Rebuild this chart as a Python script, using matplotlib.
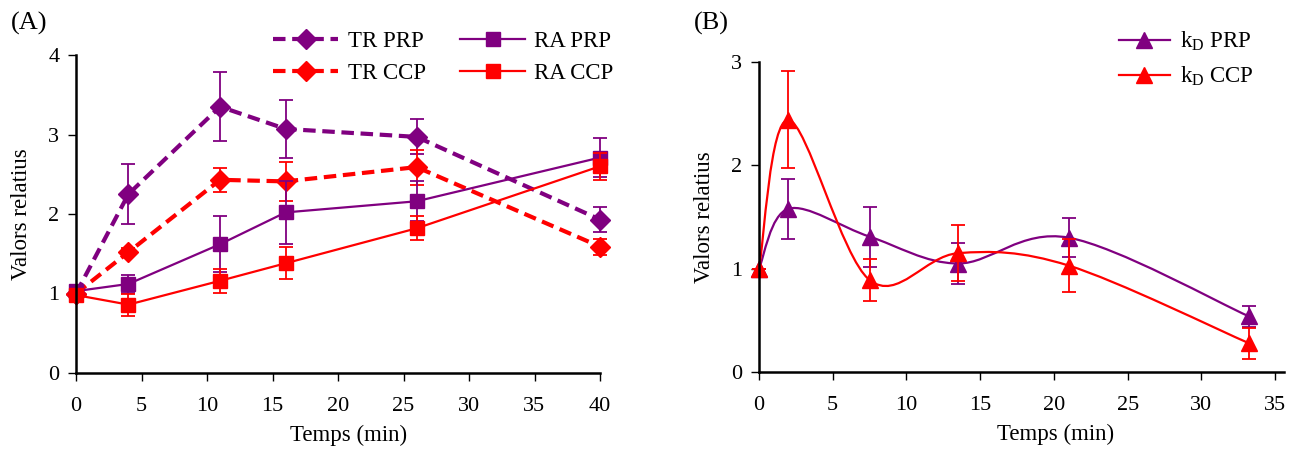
import numpy as np
import matplotlib.pyplot as plt
from matplotlib.path import Path
from matplotlib.patches import PathPatch

plt.rcParams['font.family'] = ['Liberation Serif', 'DejaVu Serif']
plt.rcParams['font.size'] = 16

PURPLE = '#800080'
RED = '#ff0000'

# Panel A data
t_a = [0, 4, 11, 16, 26, 40]
tr_prp = [1.0, 2.25, 3.35, 3.07, 2.97, 1.93]
tr_prp_err = [0, 0.38, 0.43, 0.37, 0.22, 0.16]
tr_ccp = [1.0, 1.52, 2.43, 2.41, 2.59, 1.59]
tr_ccp_err = [0, 0.05, 0.15, 0.25, 0.22, 0.10]
ra_prp = [1.03, 1.12, 1.62, 2.02, 2.16, 2.71]
ra_prp_err = [0, 0.11, 0.35, 0.40, 0.25, 0.25]
ra_ccp = [0.98, 0.86, 1.16, 1.38, 1.82, 2.60]
ra_ccp_err = [0, 0.14, 0.15, 0.20, 0.15, 0.17]

# Panel B data
t_b = [0, 2, 7.5, 13.5, 21, 33.2]
kd_prp = [1.0, 1.58, 1.31, 1.05, 1.30, 0.54]
kd_prp_err = [0, 0.29, 0.29, 0.20, 0.19, 0.10]
kd_ccp = [1.0, 2.44, 0.89, 1.15, 1.03, 0.28]
kd_ccp_err = [0, 0.47, 0.20, 0.27, 0.26, 0.15]

fig = plt.figure(figsize=(12.93, 4.49), dpi=100)
axA = fig.add_axes([76/1293, 76/449, 524/1293, 318/449])
axB = fig.add_axes([759/1293, 77/449, 525/1293, 310/449])


def style_axis(ax):
    for s in ['top', 'right']:
        ax.spines[s].set_visible(False)
    for s in ['left', 'bottom']:
        ax.spines[s].set_linewidth(1.8)
    ax.tick_params(direction='out', length=6, width=1.0, labelsize=16)
    ax.tick_params(axis='x', pad=11)
    ax.tick_params(axis='y', pad=6)


def smooth_line(ax, x, y, **kw):
    # Excel-like smoothed line, built in display space
    pts = ax.transData.transform(np.column_stack([x, y]))
    n = len(pts)
    verts = [pts[0]]
    codes = [Path.MOVETO]
    for i in range(n - 1):
        p0 = pts[i - 1] if i > 0 else pts[i]
        p1, p2 = pts[i], pts[i + 1]
        p3 = pts[i + 2] if i + 2 < n else pts[i + 1]
        c1 = p1 + (p2 - p0) / 6
        c2 = p2 - (p3 - p1) / 6
        verts += [c1, c2, p2]
        codes += [Path.CURVE4] * 3
    verts = ax.transData.inverted().transform(np.array(verts))
    ax.add_patch(PathPatch(Path(verts, codes), fill=False, **kw))


# ---- Panel A ----
style_axis(axA)
axA.set_xlim(0, 40)
axA.set_ylim(0, 4)
axA.set_xticks(range(0, 41, 5))
axA.set_yticks(range(0, 5))

series_a = [
    (tr_prp, tr_prp_err, PURPLE, 'D', '--', 3.0, 'TR PRP'),
    (tr_ccp, tr_ccp_err, RED, 'D', '--', 3.0, 'TR CCP'),
    (ra_prp, ra_prp_err, PURPLE, 's', '-', 1.6, 'RA PRP'),
    (ra_ccp, ra_ccp_err, RED, 's', '-', 1.6, 'RA CCP'),
]
for vals, err, col, mk, ls, lw, lab in series_a:
    axA.errorbar(t_a, vals, yerr=err, fmt='none', ecolor=col, elinewidth=1.3,
                 capsize=5, capthick=1.3, clip_on=False)
    line, = axA.plot(t_a, vals, color=col, ls=ls, lw=lw, marker=mk,
                     ms=10.5 if mk == 'D' else 9.5, label=lab, clip_on=False)
    if ls == '--':
        line.set_dashes((3, 1.6))

axA.legend(loc='upper left', bbox_to_anchor=(264/1293, 1 - 22/449),
           bbox_transform=fig.transFigure, ncol=2, frameon=False,
           handlelength=2.85, handletextpad=0.4, columnspacing=1.5,
           fontsize=16.5, borderaxespad=0, labelspacing=0.45)
axA.set_xlabel('Temps (min)', fontsize=16.5)
axA.xaxis.set_label_coords(0.52, -0.163)
axA.set_ylabel('Valors relatius', fontsize=16.5)
axA.yaxis.set_label_coords(-0.084, 0.5)
fig.text(11/1293, 1 - 30/449, '(A)', fontsize=19)

# ---- Panel B ----
style_axis(axB)
axB.set_xlim(0, 35.6)
axB.set_ylim(0, 3)
axB.set_xticks(range(0, 36, 5))
axB.set_yticks(range(0, 4))

series_b = [
    (kd_prp, kd_prp_err, PURPLE, r'$\mathregular{k_D}$ PRP'),
    (kd_ccp, kd_ccp_err, RED, r'$\mathregular{k_D}$ CCP'),
]
for vals, err, col, lab in series_b:
    axB.errorbar(t_b, vals, yerr=err, fmt='none', ecolor=col, elinewidth=1.3,
                 capsize=5, capthick=1.3, clip_on=False)
    smooth_line(axB, t_b, vals, edgecolor=col, lw=1.6)
    axB.plot(t_b, vals, ls='none', marker='^', ms=11, color=col, clip_on=False)
    axB.plot([], [], color=col, lw=1.6, marker='^', ms=11, label=lab)

axB.legend(loc='upper left', bbox_to_anchor=(1110/1293, 1 - 21/449),
           bbox_transform=fig.transFigure, frameon=False,
           handlelength=2.2, handletextpad=0.44, fontsize=16.5,
           borderaxespad=0, labelspacing=0.5)
axB.set_xlabel('Temps (min)', fontsize=16.5)
axB.xaxis.set_label_coords(0.564, -0.168)
axB.set_ylabel('Valors relatius', fontsize=16.5)
axB.yaxis.set_label_coords(-0.083, 0.5)
fig.text(694/1293, 1 - 30/449, '(B)', fontsize=19)

fig.savefig('out.png', dpi=100)
